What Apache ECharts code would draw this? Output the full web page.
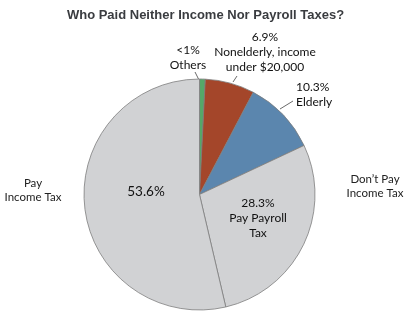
<!DOCTYPE html>
<html><head><meta charset="utf-8">
<script src="https://cdn.jsdelivr.net/npm/echarts@6/dist/echarts.min.js"></script>
<style>html,body{margin:0;padding:0;background:#fff}#c{width:411px;height:316px}</style>
</head><body><div id="c"></div>
<script>
const categories = ['Others', 'Nonelderly, income under $20,000', 'Elderly', 'Pay Payroll Tax', 'Pay Income Tax'];
const values = [0.8, 6.9, 10.3, 28.3, 53.6];
const labelTexts = ['<1%\nOthers', '6.9%\nNonelderly, income\nunder $20,000', '10.3%\nElderly', '28.3%\nPay Payroll\nTax', '53.6%'];
const sideLabels = ['Pay\nIncome Tax', 'Don\u2019t Pay\nIncome Tax'];
const title = 'Who Paid Neither Income Nor Payroll Taxes?';

const colors = ['#55a868', '#a4462a', '#5b86ae', '#d1d2d4', '#d1d2d4'];
// label layout: [x, y, align, line points]
const layout = [
  [188, 58, 'center', [[195, 72], [199, 80]]],
  [265, 52, 'center', [[237, 76], [233, 82]]],
  [296, 95, 'left', [[293, 101], [280, 109]]],
  [258, 218, 'center', null],
  [146, 192, 'center', null]
];

const chart = echarts.init(document.getElementById('c'), null, {renderer: 'canvas'});
chart.setOption({
  animation: false,
  title: {
    text: title, left: 'center', top: 4,
    textStyle: {fontFamily: 'Liberation Sans', fontWeight: 'bold', fontSize: 13, color: '#3a3c40'}
  },
  graphic: [
    {type: 'text', x: 33, y: 190, style: {text: sideLabels[0], fontFamily: 'Lato', fontSize: 11.5, fill: '#222', textAlign: 'center', textVerticalAlign: 'middle', lineHeight: 14}},
    {type: 'text', x: 375, y: 186, style: {text: sideLabels[1], fontFamily: 'Lato', fontSize: 11.5, fill: '#222', textAlign: 'center', textVerticalAlign: 'middle', lineHeight: 14}}
  ],
  series: [{
    type: 'pie',
    center: [199.5, 194.5],
    radius: [0, 115.5],
    startAngle: 90,
    clockwise: true,
    avoidLabelOverlap: false,
    itemStyle: {borderColor: '#7d7d7d', borderWidth: 0.8},
    label: {
      show: true, position: 'outside',
      fontFamily: 'Lato', fontSize: 12, color: '#111', lineHeight: 15,
      formatter: p => labelTexts[p.dataIndex]
    },
    labelLine: {show: true, lineStyle: {color: '#444', width: 0.8}},
    labelLayout: function (params) {
      const l = layout[params.dataIndex];
      const r = {x: l[0], y: l[1], align: l[2], verticalAlign: 'middle'};
      if (l[3]) r.labelLinePoints = [l[3][0], l[3][0], l[3][1]];
      return r;
    },
    data: categories.map((c, i) => {
      const d = {name: c, value: values[i], itemStyle: {color: colors[i]}};
      if (i >= 3) d.labelLine = {show: false};
      if (i === 4) d.label = {fontSize: 13.5};
      if (i === 3) d.label = {fontSize: 12};
      return d;
    })
  }]
});
</script></body></html>
